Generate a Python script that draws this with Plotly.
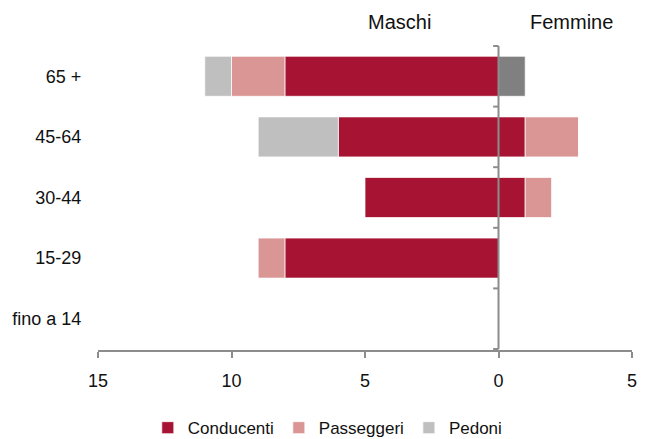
import plotly.graph_objects as go

categories = ["fino a 14", "15-29", "30-44", "45-64", "65 +"]
male_conducenti = [0, 8, 5, 6, 8]
male_passeggeri = [0, 1, 0, 0, 2]
male_pedoni = [0, 0, 0, 3, 1]
female_conducenti = [0, 0, 1, 1, 0]
female_passeggeri = [0, 0, 1, 2, 0]
female_pedoni = [0, 0, 0, 0, 1]
x_ticks = [-15, -10, -5, 0, 5]
x_tick_text = ["15", "10", "5", "0", "5"]

C_COND = "#A71433"
C_PASS = "#DA9694"
C_PED = "#BFBFBF"
C_PED_F = "#808080"
AXIS = "#8C8C8C"
FONT = "Liberation Sans, Arial, sans-serif"

fig = go.Figure()
line = dict(color="rgba(255,255,255,0.7)", width=1)
for name, vals, col in [("Conducenti", male_conducenti, C_COND),
                        ("Passeggeri", male_passeggeri, C_PASS),
                        ("Pedoni", male_pedoni, C_PED)]:
    fig.add_trace(go.Bar(y=categories, x=[-v for v in vals], orientation="h",
                         name=name, marker=dict(color=col, line=line),
                         legendgroup=name))
for name, vals, col in [("Conducenti", female_conducenti, C_COND),
                        ("Passeggeri", female_passeggeri, C_PASS),
                        ("Pedoni", female_pedoni, C_PED_F)]:
    fig.add_trace(go.Bar(y=categories, x=vals, orientation="h",
                         name=name, marker=dict(color=col, line=line),
                         legendgroup=name, showlegend=False))

shapes = [dict(type="line", xref="x", yref="y", x0=0, x1=0,
               y0=-0.5, y1=len(categories) - 0.5,
               line=dict(color=AXIS, width=2), layer="above")]
for i in range(len(categories) + 1):
    shapes.append(dict(type="line", xref="x", yref="y", x0=-0.2, x1=0,
                       y0=i - 0.5, y1=i - 0.5,
                       line=dict(color=AXIS, width=2), layer="above"))

fig.update_layout(
    width=650, height=439,
    barmode="relative", bargap=0.34,
    plot_bgcolor="white", paper_bgcolor="white",
    margin=dict(l=90, r=26, t=37, b=97),
    font=dict(family=FONT, size=18, color="#111111"),
    xaxis=dict(range=[-15, 5], tickvals=x_ticks, ticktext=x_tick_text,
               showline=True, linecolor=AXIS, linewidth=2,
               ticks="outside", tickcolor=AXIS, tickwidth=2, ticklen=6,
               ticklabelstandoff=7, automargin=False,
               showgrid=False, zeroline=False, fixedrange=True),
    yaxis=dict(categoryorder="array", categoryarray=categories,
               showgrid=False, zeroline=False, showline=False,
               ticks="outside", ticklen=12, tickcolor="rgba(0,0,0,0)",
               automargin=False),
    legend=dict(orientation="h", xref="container", yref="container",
                x=0.492, xanchor="center", y=0.043, yanchor="middle",
                font=dict(size=17), traceorder="normal", itemwidth=30),
    shapes=shapes,
    annotations=[
        dict(text="Maschi", xref="paper", yref="paper", x=0.564, y=1.0,
             xanchor="center", yanchor="middle",
             yshift=23, showarrow=False, font=dict(size=20)),
        dict(text="Femmine", xref="paper", yref="paper", x=0.886, y=1.0,
             xanchor="center", yanchor="middle",
             yshift=23, showarrow=False, font=dict(size=20)),
    ],
)
fig.write_html("out.html")
